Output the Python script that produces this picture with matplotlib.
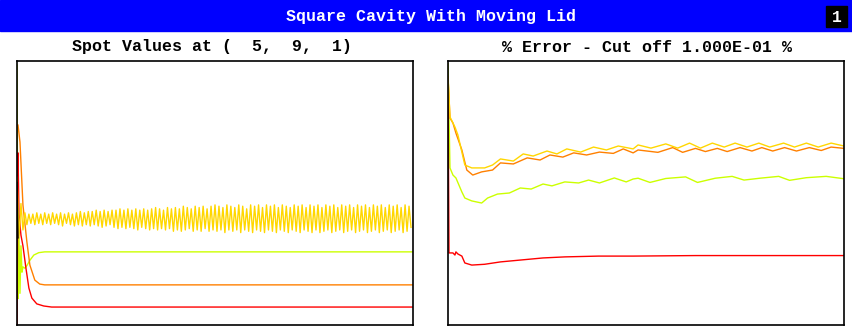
import matplotlib.pyplot as plt
import numpy as np

# --- dados (0-100 = fundo-topo do quadro) ---
# Painel esquerdo: valores pontuais
yel_left_it = np.arange(0, 400, 2)
yel_left = [
    56, 33, 46, 36, 42.5, 38, 42, 38.5, 42, 38,
    42.5, 38.5, 42, 38, 42.5, 38.5, 42, 38, 42.5, 38.5,
    42, 38, 42.5, 37.5, 42, 38.5, 42.5, 38, 42, 37.5,
    42.5, 38, 43, 37.5, 42.5, 38, 43, 37.5, 43, 38,
    43.5, 37.5, 43, 37, 43.5, 37.5, 43, 38, 43.5, 37,
    43.5, 36.5, 44, 37, 43.5, 36.5, 44, 37, 43.5, 36.5,
    44, 36, 43.5, 37, 44, 36.5, 43.5, 36, 44, 36.5,
    44.5, 36, 44, 36.5, 43.5, 36, 44.5, 36.5, 44, 35.5,
    44.5, 36, 44, 35.5, 45, 36, 44.5, 36.5, 44, 35.5,
    45, 36, 44.5, 35.5, 45, 36.5, 44, 35.5, 45, 36,
    45.5, 35.5, 45, 36, 44.5, 35, 45.5, 36, 45, 35.5,
    44.5, 36, 45.5, 35, 45, 36, 44, 35.5, 45.5, 35,
    45, 36, 45.5, 35.5, 44.5, 35, 45.5, 36, 45, 35.5,
    45.5, 35, 44.5, 36, 45.5, 35.5, 45, 35, 44.5, 36,
    45.5, 35.5, 45, 35, 45.5, 36, 44.5, 35.5, 45.5, 35,
    45, 36, 45.5, 35, 44.5, 35.5, 45.5, 36, 45, 35,
    45.5, 35.5, 44.5, 36, 45.5, 35, 45, 35.5, 45.5, 36,
    44.5, 35, 45.5, 35.5, 45, 36, 45.5, 35, 44.5, 35.5,
    45.5, 36, 45, 35, 45.5, 35.5, 44.5, 36, 45.5, 35,
    45, 35.5, 45.5, 36, 44.5, 35, 45.5, 35.5, 45, 37,
]

grn_left_it = [0, 1, 2, 3, 4, 5, 6, 8, 10, 13, 17, 22, 28, 400]
grn_left = [98.5, 10, 33, 12, 30, 20, 22, 21.5, 22.5, 24.5, 26.5, 27.4, 27.7, 27.7]

org_left_it = [0, 1, 3, 6, 10, 13, 18, 23, 28, 400]
org_left = [75.8, 75.8, 69.3, 45.5, 31.4, 22.7, 17.0, 15.5, 15.2, 15.2]

red_left_it = [0, 1, 2, 4, 6, 9, 12, 15, 20, 27, 35, 400]
red_left = [0, 65.2, 42, 34, 30, 21.6, 14, 10.2, 8, 7.2, 6.8, 6.8]

blk_left_it = [0, 1]
blk_left = [54, 33]

# Painel direito: % erro
yel_right_it = [0, 2, 7, 10, 14, 17, 24, 37, 45, 53, 66, 76, 86, 100, 110, 120,
                134, 147, 160, 172, 187, 192, 205, 220, 232, 244, 255, 267, 279,
                290, 302, 314, 325, 339, 350, 362, 374, 387, 400]
yel_right = [94, 78.8, 75, 72, 65.5, 60.6, 59.5, 59.5, 60.6, 62.9, 62.1, 64.8, 64,
             65.9, 64.8, 66.7, 65.5, 67.4, 66.3, 67.8, 66.7, 68.2, 67, 68.6, 67,
             68.9, 67, 68.9, 67.4, 68.9, 67.4, 68.9, 67.4, 68.9, 67.4, 68.9, 67.4,
             68.9, 67.8]

org_right_it = [0, 2, 5, 8, 14, 19, 25, 34, 45, 53, 66, 80, 93, 103, 116, 127, 140,
                153, 167, 177, 187, 192, 212, 227, 237, 250, 260, 272, 282, 295,
                307, 317, 328, 340, 352, 365, 377, 387, 400]
org_right = [94, 78.4, 76.5, 72.7, 66.3, 58.7, 56.8, 58, 58.7, 61.4, 61, 63.3, 62.5,
             64.4, 63.6, 65.2, 64.4, 65.5, 65, 66.7, 65.2, 66.3, 65.4, 67.2, 65.4,
             66.9, 65.7, 66.9, 65.7, 67.2, 65.9, 67.2, 65.9, 67.2, 65.9, 67.2, 66.1,
             67.4, 66.9]

grn_right_it = [0, 2, 5, 8, 14, 17, 24, 34, 40, 50, 62, 73, 84, 96, 105, 118, 132,
                142, 153, 168, 180, 187, 192, 204, 220, 240, 252, 270, 287, 299,
                315, 334, 345, 362, 382, 400]
grn_right = [99, 59.5, 56.8, 55.7, 50.4, 48.1, 47, 46.2, 48.1, 49.6, 50, 51.9, 51.5,
             53.4, 52.7, 54.2, 53.8, 54.9, 53.8, 55.7, 54.2, 55.3, 55.6, 54.0, 55.5,
             56.1, 54.0, 55.6, 56.3, 54.9, 55.6, 56.3, 54.8, 55.8, 56.3, 55.4]

red_right_it = [0, 1, 5, 7, 8, 10, 14, 17, 24, 37, 53, 73, 96, 118, 152, 187, 250, 400]
red_right = [92.8, 27.3, 27.3, 26.5, 27.7, 26.9, 26.1, 23.5, 22.7, 23.0, 23.9, 24.6,
             25.4, 25.8, 26.1, 26.1, 26.3, 26.3]

# --- cores ---
c_yel = '#FFD700'
c_grn = '#CCFF00'
c_org = '#FF8000'
c_red = '#FF0000'

fonte = 'Liberation Mono'

fig = plt.figure(figsize=(8.53, 3.31), dpi=100)

# barra de titulo
fig.patches.append(plt.Rectangle((0, 1 - 31 / 331), 1, 31 / 331, transform=fig.transFigure,
                                 color='#0000FF', zorder=0))
fig.patches.append(plt.Rectangle((826 / 853, 1 - 27 / 331), 21 / 853, 21 / 331,
                                 transform=fig.transFigure, color='black', zorder=1))
fig.text(431 / 853, 1 - 20.5 / 331, 'Square Cavity With Moving Lid', color='white',
         fontsize=12, fontweight='bold', family=fonte, ha='center', va='baseline')
fig.text(836.5 / 853, 1 - 21.5 / 331, '1', color='white', fontsize=12, fontweight='bold',
         family=fonte, ha='center', va='baseline')

ax1 = fig.add_axes([17 / 853, 6 / 331, 396 / 853, 264 / 331])
ax2 = fig.add_axes([448 / 853, 6 / 331, 396 / 853, 264 / 331])

lw = 1.0
ax1.plot(grn_left_it, grn_left, color=c_grn, lw=lw)
ax1.plot(org_left_it, org_left, color=c_org, lw=lw)
ax1.plot(red_left_it, red_left, color=c_red, lw=lw)
ax1.plot(yel_left_it, yel_left, color=c_yel, lw=lw)
ax1.plot(blk_left_it, blk_left, color='black', lw=lw)

ax2.plot(grn_right_it, grn_right, color=c_grn, lw=lw)
ax2.plot(red_right_it, red_right, color=c_red, lw=lw)
ax2.plot(org_right_it, org_right, color=c_org, lw=lw)
ax2.plot(yel_right_it, yel_right, color=c_yel, lw=lw)

for ax in (ax1, ax2):
    ax.set_xlim(0, 400)
    ax.set_ylim(0, 100)
    ax.set_xticks([])
    ax.set_yticks([])
    for s in ax.spines.values():
        s.set_linewidth(1.2)
        s.set_color('black')

fig.text(212.5 / 853, 1 - 51.5 / 331, 'Spot Values at (  5,  9,  1)', fontsize=12,
         fontweight='bold', family=fonte, ha='center', va='baseline')
fig.text(647 / 853, 1 - 51.5 / 331, '% Error - Cut off 1.000E-01 %', fontsize=12,
         fontweight='bold', family=fonte, ha='center', va='baseline')

plt.savefig('out.png', dpi=100)
